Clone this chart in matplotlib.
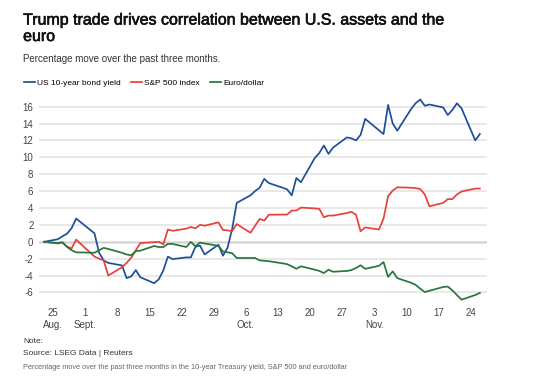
import matplotlib
matplotlib.use("Agg")
import matplotlib.pyplot as plt
import matplotlib.patheffects as pe
import pandas as pd

plt.rcParams['font.family'] = ['Liberation Sans', 'DejaVu Sans']

dates = ["2024-08-23", "2024-08-26", "2024-08-27", "2024-08-28", "2024-08-29", "2024-08-30",
         "2024-09-03", "2024-09-04", "2024-09-05", "2024-09-06",
         "2024-09-09", "2024-09-10", "2024-09-11", "2024-09-12", "2024-09-13",
         "2024-09-16", "2024-09-17", "2024-09-18", "2024-09-19", "2024-09-20",
         "2024-09-23", "2024-09-24", "2024-09-25", "2024-09-26", "2024-09-27",
         "2024-09-30", "2024-10-01", "2024-10-02", "2024-10-03", "2024-10-04",
         "2024-10-07", "2024-10-08", "2024-10-09", "2024-10-10", "2024-10-11",
         "2024-10-14", "2024-10-15", "2024-10-16", "2024-10-17", "2024-10-18",
         "2024-10-21", "2024-10-22", "2024-10-23", "2024-10-24", "2024-10-25",
         "2024-10-28", "2024-10-29", "2024-10-30", "2024-10-31", "2024-11-01",
         "2024-11-04", "2024-11-05", "2024-11-06", "2024-11-07", "2024-11-08",
         "2024-11-11", "2024-11-12", "2024-11-13", "2024-11-14", "2024-11-15",
         "2024-11-18", "2024-11-19", "2024-11-20", "2024-11-21", "2024-11-22",
         "2024-11-25", "2024-11-26"]

bond_yield = [0, 0.3, 0.65, 0.95, 1.6, 2.75,
              1.0, -1.3, -2.2, -2.5,
              -2.8, -4.3, -4.1, -3.35, -4.2,
              -4.9, -4.45, -3.4, -1.75, -2.05,
              -1.85, -1.85, -0.6, -0.45, -1.5,
              -0.35, -1.65, -0.7, 1.5, 4.6,
              5.5, 6.0, 6.4, 7.45, 6.95,
              6.4, 6.2, 5.5, 7.55, 7.05,
              9.9, 10.5, 11.4, 10.4, 11.15,
              12.35, 12.25, 12.0, 12.65, 14.55,
              13.2, 12.75, 16.2, 14.0, 13.15,
              15.7, 16.4, 16.85, 16.1, 16.25,
              15.9, 15.0, 15.6, 16.4, 15.8,
              12.0, 12.75]

sp500 = [0, -0.2, -0.1, -0.55, -0.8, 0.25,
         -1.75, -2.0, -2.2, -4.0,
         -3.0, -2.5, -1.9, -1.0, -0.15,
         -0.05, 0.0, -0.3, 1.45, 1.3,
         1.55, 1.75, 1.6, 2.0, 1.9,
         2.3, 1.4, 1.35, 1.25, 2.1,
         1.07, 1.9, 2.7, 2.5, 3.2,
         3.22, 3.22, 3.7, 3.7, 4.05,
         3.95, 3.9, 2.9, 3.1, 3.1,
         3.4, 3.55, 3.2, 1.25, 1.7,
         1.45, 2.75, 5.4, 6.05, 6.45,
         6.4, 6.35, 6.25, 5.6, 4.2,
         4.6, 5.05, 5.05, 5.6, 5.95,
         6.3, 6.3]

euro_dollar = [0, -0.15, -0.05, -0.6, -1.0, -1.25,
               -1.3, -1.0, -0.72, -0.85,
               -1.3, -1.5, -1.6, -1.1, -1.05,
               -0.5, -0.62, -0.62, -0.25, -0.25,
               -0.62, -0.02, -0.52, -0.1, -0.2,
               -0.48, -1.15, -1.25, -1.35, -1.92,
               -1.92, -1.92, -2.2, -2.25, -2.3,
               -2.55, -2.65, -2.9, -3.2, -2.9,
               -3.3, -3.45, -3.7, -3.3, -3.55,
               -3.45, -3.35, -3.1, -2.78, -3.2,
               -2.85, -2.4, -4.15, -3.5, -4.3,
               -4.85, -5.1, -5.55, -5.95, -5.8,
               -5.35, -5.3, -5.75, -6.3, -6.85,
               -6.3, -6.05]

series_names = ["US 10-year bond yield", "S&P 500 index", "Euro/dollar"]
series_colors = ["#1f4e9a", "#e8403a", "#26773a"]

tick_dates = ["2024-08-25", "2024-09-01", "2024-09-08", "2024-09-15", "2024-09-22",
              "2024-09-29", "2024-10-06", "2024-10-13", "2024-10-20", "2024-10-27",
              "2024-11-03", "2024-11-10", "2024-11-17", "2024-11-24"]
tick_labels = ["25\nAug.", "1\nSept.", "8", "15", "22", "29", "6\nOct.", "13", "20",
               "27", "3\nNov.", "10", "17", "24"]
y_ticks = [-6, -4, -2, 0, 2, 4, 6, 8, 10, 12, 14, 16]

x = pd.to_datetime(dates)

fig = plt.figure(figsize=(5.5, 3.79), dpi=100)
ax = fig.add_axes([0.071, 0.206, 0.814, 0.535])

for vals, name, col in zip([bond_yield, sp500, euro_dollar], series_names, series_colors):
    ax.plot(x, vals, color=col, lw=1.25, label=name, zorder=3)

ax.set_ylim(-7, 17)
ax.set_xlim(pd.Timestamp("2024-08-21 22:00"), pd.Timestamp("2024-11-27 12:00"))
ax.set_yticks(y_ticks)
ax.set_yticklabels([str(v) for v in y_ticks])
ax.set_xticks(pd.to_datetime(tick_dates))
ax.set_xticklabels(tick_labels, linespacing=1.25)
ax.grid(axis='y', color='#e2e2e2', lw=1.1, zorder=0)
ax.axhline(0, color='#8a8a8a', lw=1.0, zorder=1)
for s in ax.spines.values():
    s.set_visible(False)
ax.tick_params(length=0, labelsize=7, colors='#444444')
ax.tick_params(axis='y', pad=4)
ax.tick_params(axis='x', pad=5)

fig.text(0.042, 1 - 41.0 / 379, "Trump trade drives correlation between U.S. assets and the\neuro",
         fontsize=11.5, va='baseline', ha='left', color='#111111', linespacing=1.12,
         path_effects=[pe.withStroke(linewidth=0.45, foreground='#111111')])
fig.text(0.042, 0.845, "Percentage move over the past three months.",
         fontsize=7, va='center', ha='left', color='#333333')
fig.legend(loc='center left', bbox_to_anchor=(0.03, 0.78), ncol=3, frameon=False,
           fontsize=6, handlelength=1.3, handletextpad=0.3, columnspacing=1.2)

fig.text(0.042, 0.10, "Note:", fontsize=6, color='#333333', va='center')
fig.text(0.042, 0.068, "Source: LSEG Data | Reuters", fontsize=6, color='#333333', va='center')
fig.text(0.042, 0.031,
         "Percentage move over the past three months in the 10-year Treasury yield, S&P 500 and euro/dollar",
         fontsize=5.3, color='#666666', va='center')

fig.savefig("out.png", dpi=100)
